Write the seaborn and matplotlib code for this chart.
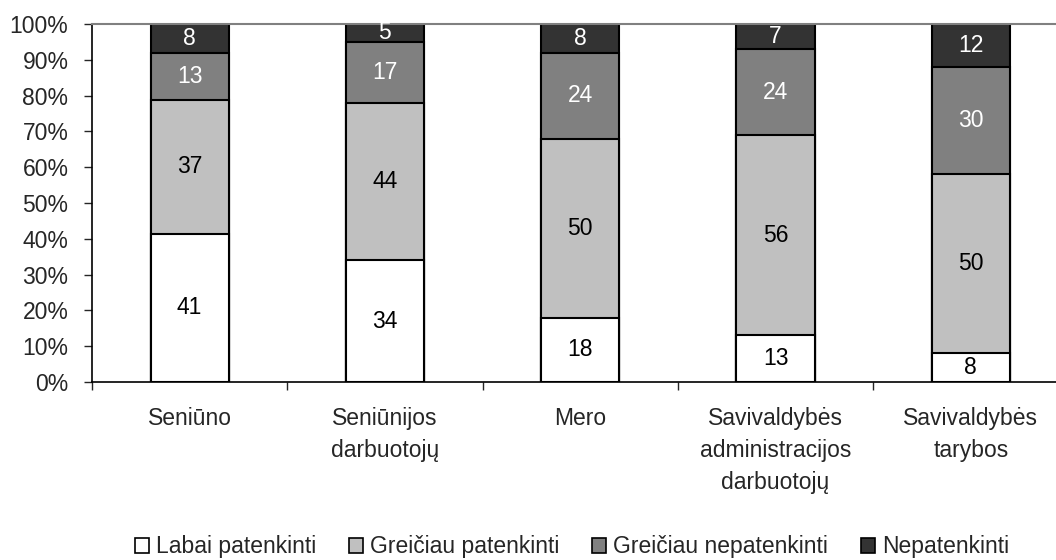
import numpy as np
import pandas as pd
import matplotlib
matplotlib.use("Agg")
import matplotlib.pyplot as plt
from matplotlib.patches import Patch
import seaborn as sns

categories = ["Seniūno", "Seniūnijos\ndarbuotojų", "Mero",
              "Savivaldybės\nadministracijos\ndarbuotojų", "Savivaldybės\ntarybos"]
series_names = ["Labai patenkinti", "Greičiau patenkinti",
                "Greičiau nepatenkinti", "Nepatenkinti"]
labai_patenkinti = [41, 34, 18, 13, 8]
greiciau_patenkinti = [37, 44, 50, 56, 50]
greiciau_nepatenkinti = [13, 17, 24, 24, 30]
nepatenkinti = [8, 5, 8, 7, 12]
colors = ["#ffffff", "#c0c0c0", "#808080", "#333333"]
text_colors = ["black", "black", "white", "white"]

sns.set_style("white")
plt.rcParams["font.family"] = ["Liberation Sans", "DejaVu Sans"]
fs = 16.5

vals = np.array([labai_patenkinti, greiciau_patenkinti,
                 greiciau_nepatenkinti, nepatenkinti], dtype=float)
share = vals / vals.sum(axis=0) * 100  # 100% stacked
cum = share.cumsum(axis=0)

fig = plt.figure(figsize=(10.56, 5.6), dpi=100)
ax = fig.add_axes([92 / 1056, 1 - 382 / 560, 976.5 / 1056, 358 / 560])

# draw from the full stack down so lower layers cover upper ones
for i in range(3, -1, -1):
    df = pd.DataFrame({"cat": categories, "top": cum[i]})
    sns.barplot(data=df, x="cat", y="top", order=categories, color=colors[i],
                width=0.4, edgecolor="black", linewidth=1.5, saturation=1,
                ax=ax, zorder=2)

# value labels in the middle of each segment
for i in range(4):
    for j in range(len(categories)):
        mid = cum[i, j] - share[i, j] / 2
        ax.text(j, mid, f"{int(vals[i, j])}", ha="center", va="center",
                fontsize=fs, color=text_colors[i], zorder=3)

ax.set_xlim(-0.5, 4.5)
ax.set_ylim(0, 100)
ax.set_yticks(np.arange(0, 101, 10))
ax.set_yticklabels([f"{v}%" for v in range(0, 101, 10)], fontsize=fs)
ax.set_xlabel("")
ax.set_ylabel("")
ax.tick_params(axis="y", direction="out", length=6, width=1, pad=11, left=True)
ax.tick_params(axis="x", which="major", length=0, pad=18, labelsize=fs)
for lbl in ax.get_xticklabels():
    lbl.set_linespacing(1.5)
    lbl.set_va("top")
ax.set_xticks(np.arange(-0.5, 5, 1), minor=True)
ax.tick_params(axis="x", which="minor", direction="out", length=6, width=1, bottom=True)

for side in ["left", "bottom"]:
    ax.spines[side].set_color("black")
    ax.spines[side].set_linewidth(1.2)
ax.spines["top"].set_color("#808080")
ax.spines["top"].set_linewidth(1.5)
ax.spines["right"].set_color("#808080")

handles = [Patch(facecolor=c, edgecolor="black", linewidth=1.2) for c in colors]
fig.legend(handles, series_names, loc="center", ncol=4, frameon=False,
           bbox_to_anchor=(572 / 1056, 1 - 547 / 560), fontsize=fs,
           handlelength=0.6, handleheight=0.6, handletextpad=0.3,
           columnspacing=1.45)

fig.savefig("out.png", dpi=100)
